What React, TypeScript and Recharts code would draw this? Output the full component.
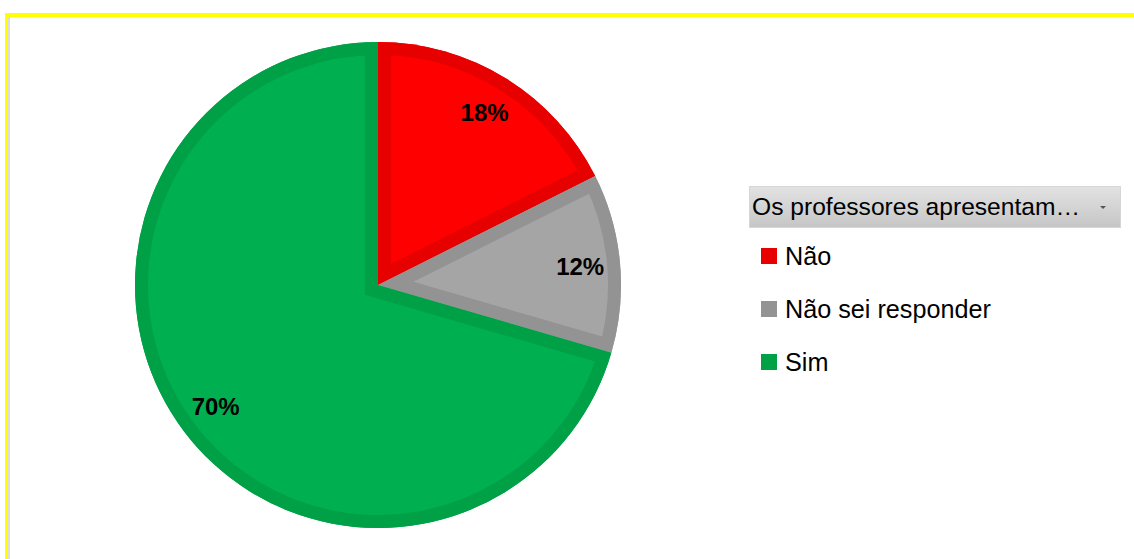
import React from 'react';
import { PieChart, Pie, Cell, Legend, Sector } from 'recharts';

const categories = ['Não', 'Não sei responder', 'Sim'];
const values = [17.6, 11.9, 70.5];
const labels = ['18%', '12%', '70%'];
const legendTitle = 'Os professores apresentam…';

const FILLS = ['#FF0000', '#A5A5A5', '#00B050'];
const EDGES = ['#E60000', '#939393', '#00A047'];

const data = categories.map((name, i) => ({ name, value: values[i] }));

const RADIAN = Math.PI / 180;
const FONT = '"Liberation Sans", Arial, sans-serif';

// Excel style inner border: a wide stroke clipped to the slice itself,
// then the percentage text.
const renderSlice = (props: any) => {
  const { cx, cy, innerRadius, outerRadius, startAngle, endAngle, midAngle, index } = props;
  const r = 203;
  const x = cx + r * Math.cos(-midAngle * RADIAN);
  const y = cy + r * Math.sin(-midAngle * RADIAN);
  const id = `slice-clip-${index}`;
  return (
    <g key={id}>
      <defs>
        <clipPath id={id}>
          <Sector cx={cx} cy={cy} innerRadius={innerRadius} outerRadius={outerRadius}
            startAngle={startAngle} endAngle={endAngle} />
        </clipPath>
      </defs>
      <Sector cx={cx} cy={cy} innerRadius={innerRadius} outerRadius={outerRadius}
        startAngle={startAngle} endAngle={endAngle}
        fill="none" stroke={EDGES[index]} strokeWidth={26} clipPath={`url(#${id})`} />
      <text x={x} y={y} fill="#000" textAnchor="middle" dominantBaseline="central"
        fontFamily={FONT} fontWeight="bold" fontSize={24}>
        {labels[index]}
      </text>
    </g>
  );
};

const renderLegend = () => (
  <div style={{ fontFamily: FONT, color: '#000' }}>
    <div style={{
      width: 372, height: 42, boxSizing: 'border-box', border: '1px solid #d6d6d6',
      background: 'linear-gradient(#e2e2e2, #c6c6c6)', position: 'relative',
      fontSize: 24.6, lineHeight: '40px', paddingLeft: 2, whiteSpace: 'nowrap',
    }}>
      {legendTitle}
      <span style={{
        position: 'absolute', left: 350, top: 19, width: 0, height: 0,
        borderLeft: '3px solid transparent', borderRight: '3px solid transparent',
        borderTop: '3px solid #555',
      }} />
    </div>
    {categories.map((name, i) => (
      <div key={name} style={{
        position: 'absolute', left: 12, top: 62 + i * 53, height: 16,
        display: 'flex', alignItems: 'center', fontSize: 25.2, whiteSpace: 'nowrap',
      }}>
        <span style={{ display: 'inline-block', width: 16, height: 16, background: EDGES[i], marginRight: 8 }} />
        <span>{name}</span>
      </div>
    ))}
  </div>
);

export default function App() {
  return (
    <div style={{ position: 'absolute', left: 0, top: 0, width: 1134, height: 559, background: '#fff', overflow: 'hidden' }}>
      <div style={{ position: 'absolute', left: 5, top: 13, width: 1129, height: 4, background: '#FFFF00' }} />
      <div style={{ position: 'absolute', left: 5, top: 13, width: 3, height: 546, background: '#FFFF00' }} />
      <div style={{ position: 'absolute', left: 8, top: 17, width: 2, height: 542, background: '#dcdce4' }} />
      <PieChart width={1134} height={559} margin={{ top: 0, right: 0, bottom: 0, left: 0 }}>
        <Pie
          data={data}
          dataKey="value"
          nameKey="name"
          cx={378}
          cy={285}
          outerRadius={243}
          startAngle={90}
          endAngle={-270}
          stroke="none"
          labelLine={false}
          label={renderSlice}
          isAnimationActive={false}
        >
          {data.map((entry, i) => (
            <Cell key={`cell-${i}`} fill={FILLS[i]} stroke="none" />
          ))}
        </Pie>
        <Legend
          content={renderLegend}
          wrapperStyle={{ position: 'absolute', left: 749, top: 186, width: 372 }}
        />
      </PieChart>
    </div>
  );
}
